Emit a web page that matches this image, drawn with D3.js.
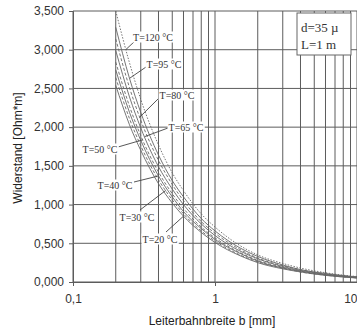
<!DOCTYPE html>
<html><head><meta charset="utf-8">
<script src="https://cdn.jsdelivr.net/npm/d3@7"></script>
<style>html,body{margin:0;padding:0;background:#fff;overflow:hidden}</style>
</head><body>
<svg id="c" width="357" height="331"></svg>
<script>
// ---- data ----
const widths = [0.2, 0.25, 0.3, 0.4, 0.5, 0.6, 0.8, 1, 1.5, 2, 3, 4, 6, 8, 10];
const temps = [20, 30, 40, 50, 65, 80, 95, 120];
const r20  = [2.54,2.03,1.70,1.27,1.02,0.85,0.64,0.51,0.34,0.25,0.17,0.13,0.085,0.064,0.051];
const r30  = [2.64,2.11,1.76,1.32,1.06,0.88,0.66,0.53,0.35,0.26,0.18,0.13,0.088,0.066,0.053];
const r40  = [2.74,2.19,1.83,1.37,1.10,0.91,0.69,0.55,0.37,0.27,0.18,0.14,0.091,0.069,0.055];
const r50  = [2.84,2.27,1.89,1.42,1.14,0.95,0.71,0.57,0.38,0.28,0.19,0.14,0.095,0.071,0.057];
const r65  = [2.99,2.39,1.99,1.49,1.20,1.00,0.75,0.60,0.40,0.30,0.20,0.15,0.100,0.075,0.060];
const r80  = [3.14,2.51,2.09,1.57,1.26,1.05,0.78,0.63,0.42,0.31,0.21,0.16,0.105,0.078,0.063];
const r95  = [3.29,2.63,2.19,1.64,1.31,1.10,0.82,0.66,0.44,0.33,0.22,0.16,0.110,0.082,0.066];
const r120 = [3.50,2.83,2.36,1.77,1.41,1.18,0.88,0.71,0.47,0.35,0.24,0.18,0.120,0.088,0.071];
const seriesValues = [r20, r30, r40, r50, r65, r80, r95, r120];
const yTicks = [0, 0.5, 1, 1.5, 2, 2.5, 3, 3.5];
const xTickLabels = ["0,1", "1", "10"];
const xTickValues = [0.1, 1, 10];
const labelTexts = temps.map(t => "T=" + t + " °C");
const infoLines = ["d=35 µ", "L=1 m"];

// ---- layout ----
const svg = d3.select("#c");
const L = 73, T = 11, R = 357, B = 282;
const x = d3.scaleLog().domain([0.1, 10]).range([L, R]);
const y = d3.scaleLinear().domain([0, 3.5]).range([B, T]);
const grid = "#5c5c5c";

// grid
const minor = [];
for (let d of [0.1, 1]) for (let k = 1; k <= 9; k++) minor.push(d * k);
minor.push(10);
svg.append("g").selectAll("line").data(minor).join("line")
  .attr("x1", d => x(d)).attr("x2", d => x(d)).attr("y1", T).attr("y2", B)
  .attr("stroke", grid).attr("stroke-width", 1);
svg.append("g").selectAll("line").data(yTicks).join("line")
  .attr("x1", L).attr("x2", R).attr("y1", d => y(d)).attr("y2", d => y(d))
  .attr("stroke", grid).attr("stroke-width", 1);

// axes
const fmtY = d => d3.format(".3f")(d).replace(".", ",");
const yAxis = svg.append("g").attr("transform", `translate(${L},0)`)
  .call(d3.axisLeft(y).tickValues(yTicks).tickFormat(fmtY).tickSize(4).tickPadding(5));
const xAxis = svg.append("g").attr("transform", `translate(0,${B})`)
  .call(d3.axisBottom(x).tickValues(xTickValues).tickFormat((d, i) => xTickLabels[i]).tickSize(4).tickPadding(8));
[yAxis, xAxis].forEach(a => {
  a.selectAll("path").attr("stroke", grid);
  a.selectAll("line").attr("stroke", grid);
  a.selectAll("text").attr("font-family", "Liberation Sans, Arial, sans-serif")
    .attr("font-size", 12).attr("fill", "#333");
});
// keep the last tick label inside the picture
xAxis.selectAll(".tick text").filter(d => d === 10).attr("text-anchor", "end").attr("dx", 0);

// curves
const line = d3.line().x(d => x(d[0])).y(d => y(d[1])).curve(d3.curveMonotoneX);
const dashes = [null, "3,2", null, "3,2", null, "3,2", null, "1.5,1.5"];
seriesValues.forEach((vals, i) => {
  svg.append("path").datum(widths.map((w, j) => [w, vals[j]]))
    .attr("d", line).attr("fill", "none").attr("stroke", "#666")
    .attr("stroke-width", 0.9).attr("stroke-dasharray", dashes[i]);
});

// labels
const labelPos = {
  120: {cx: 153, cy: 37, sx: 135, sy: 41, b: 0.236},
  95:  {cx: 164, cy: 64, sx: 146, sy: 67, b: 0.25},
  80:  {cx: 177, cy: 95, sx: 159, sy: 98, b: 0.295},
  65:  {cx: 186, cy: 127, sx: 168, sy: 128, b: 0.32},
  50:  {cx: 100, cy: 149, sx: 118, sy: 147, b: 0.31},
  40:  {cx: 115, cy: 185, sx: 134, sy: 182, b: 0.4},
  30:  {cx: 137, cy: 217, sx: 140, sy: 210, b: 0.45},
  20:  {cx: 160, cy: 239, sx: 166, sy: 232, b: 0.6}
};
temps.forEach((t, i) => {
  const p = labelPos[t];
  const interp = d3.scaleLog().domain(widths).range(seriesValues[i]);
  svg.append("line").attr("x1", p.sx).attr("y1", p.sy)
    .attr("x2", x(p.b)).attr("y2", y(interp(p.b)))
    .attr("stroke", "#444").attr("stroke-width", 0.9);
  const g = svg.append("g");
  const txt = g.append("text").attr("x", p.cx).attr("y", p.cy).attr("dy", "0.35em")
    .attr("text-anchor", "middle").attr("font-family", "Liberation Serif, Times New Roman, serif")
    .attr("font-size", 10).attr("fill", "#333").text(labelTexts[i]);
  const bb = txt.node().getBBox();
  g.insert("rect", "text").attr("x", bb.x - 1).attr("y", bb.y).attr("width", bb.width + 2)
    .attr("height", bb.height).attr("fill", "#fff");
});

// info box
svg.append("rect").attr("x", 297).attr("y", 13).attr("width", 54).attr("height", 42)
  .attr("fill", "#fff").attr("stroke", "#666").attr("stroke-width", 1);
infoLines.forEach((s, i) => {
  svg.append("text").attr("x", 301).attr("y", 32 + i * 17)
    .attr("font-family", "Liberation Serif, Times New Roman, serif").attr("font-size", 13)
    .attr("fill", "#333").text(s);
});

// titles
svg.append("text").attr("transform", "translate(22,148) rotate(-90)")
  .attr("text-anchor", "middle").attr("font-family", "Liberation Sans, Arial, sans-serif")
  .attr("font-size", 12).attr("fill", "#222").text("Widerstand [Ohm*m]");
svg.append("text").attr("x", 212).attr("y", 325)
  .attr("text-anchor", "middle").attr("font-family", "Liberation Sans, Arial, sans-serif")
  .attr("font-size", 12).attr("fill", "#222").text("Leiterbahnbreite b [mm]");
</script>
</body></html>
